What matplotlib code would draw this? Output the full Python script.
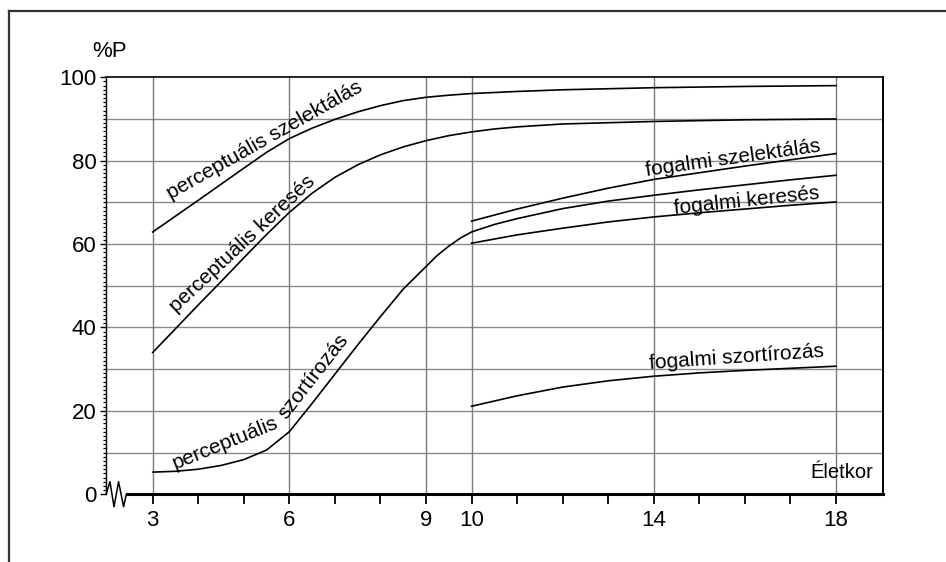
import matplotlib.pyplot as plt
from matplotlib.lines import Line2D
from matplotlib.ticker import MultipleLocator, FixedLocator
import numpy as np

plt.rcParams['font.family'] = ['Liberation Sans', 'DejaVu Sans']

# eletkor (ev) es %P ertekek a gorbekhez
perc_szel_x = [3, 4, 5, 5.5, 6, 6.5, 7, 7.5, 8, 8.5, 9, 9.5, 10, 11, 12, 14, 16, 18]
perc_szel_y = [62.9, 70.5, 78.2, 82, 85.3, 87.8, 89.9, 91.7, 93.2, 94.4, 95.2, 95.7, 96.1, 96.6, 97, 97.5, 97.8, 98]

perc_ker_x = [3, 3.5, 4, 4.5, 5, 5.5, 6, 6.5, 7, 7.5, 8, 8.5, 9, 9.5, 10, 10.5, 11, 12, 14, 16, 18]
perc_ker_y = [34, 39.7, 45.4, 51, 56.7, 62.3, 67.6, 72.2, 76, 79, 81.4, 83.3, 84.8, 86, 86.9, 87.6, 88.1,
              88.8, 89.4, 89.8, 90]

perc_szort_x = [3, 3.5, 4, 4.5, 5, 5.5, 6, 6.5, 7, 7.5, 8, 8.5, 9, 9.25, 9.5, 9.75, 10, 10.5, 11, 12,
                13, 14, 15, 16, 17, 18]
perc_szort_y = [5.3, 5.5, 6.0, 6.9, 8.3, 10.6, 15.0, 21.8, 28.8, 35.8, 42.6, 49.2, 54.6, 57.3, 59.5, 61.4,
                62.9, 64.7, 66.1, 68.5, 70.3, 71.7, 73, 74.2, 75.4, 76.5]

fog_x = [10, 11, 12, 13, 14, 15, 16, 17, 18]
fog_szel_y = [65.5, 68.4, 71, 73.4, 75.5, 77.1, 78.7, 80.2, 81.7]
fog_ker_y = [60.2, 62.2, 63.8, 65.3, 66.5, 67.5, 68.4, 69.3, 70.1]
fog_szort_y = [21.1, 23.6, 25.7, 27.2, 28.3, 29.1, 29.7, 30.2, 30.7]

x_major = [3, 6, 9, 10, 14, 18]
x_minor = [4, 5, 7, 8, 11, 12, 13, 15, 16, 17]
y_labels = [0, 20, 40, 60, 80, 100]

fig = plt.figure(figsize=(9.46, 5.62), dpi=100)
ax = fig.add_axes([0.1121, 0.1206, 0.8216, 0.7419])

# keret a kep korul (bal es felso el)
fig.add_artist(Line2D([9/946, 9/946], [0, 1-11/562], color='#333333', lw=1.6))
fig.add_artist(Line2D([9/946, 1], [1-11/562, 1-11/562], color='#333333', lw=1.6))

for yy in range(10, 100, 10):
    ax.axhline(yy, color='#8a8a8a', lw=1.0, zorder=1)
for xx in x_major:
    ax.axvline(xx, color='#7a7a7a', lw=1.0, zorder=1)

lc = 'black'
lw = 1.2
ax.plot(perc_szel_x, perc_szel_y, color=lc, lw=lw, zorder=3)
ax.plot(perc_ker_x, perc_ker_y, color=lc, lw=lw, zorder=3)
ax.plot(perc_szort_x, perc_szort_y, color=lc, lw=lw, zorder=3)
ax.plot(fog_x, fog_szel_y, color=lc, lw=lw, zorder=3)
ax.plot(fog_x, fog_ker_y, color=lc, lw=lw, zorder=3)
ax.plot(fog_x, fog_szort_y, color=lc, lw=lw, zorder=3)

fs = 15
kw = dict(fontsize=fs, ha='center', va='center', rotation_mode='anchor', zorder=4)
ax.text(5.45, 84.8, 'perceptuális szelektálás', rotation=29.5, **kw)
ax.text(4.97, 60.1, 'perceptuális keresés', rotation=43, **kw)
ax.text(4.6, 12.3, 'perceptuális', rotation=22, **kw)
ax.text(6.52, 28.2, 'szortírozás', rotation=52, **kw)
ax.text(15.75, 80.5, 'fogalmi szelektálás', rotation=8, **kw)
ax.text(16.05, 70.4, 'fogalmi keresés', rotation=6, **kw)
ax.text(15.83, 32.7, 'fogalmi szortírozás', rotation=4, **kw)
ax.text(18.13, 5.2, 'Életkor', fontsize=14.5, ha='center', va='center')
ax.text(2.06, 106.1, '%P', fontsize=16, ha='center', va='center', clip_on=False)

ax.set_xlim(1.975, 19.04)
ax.set_ylim(0, 100)

ax.xaxis.set_major_locator(FixedLocator(x_major))
ax.xaxis.set_minor_locator(FixedLocator(x_minor))
ax.set_xticklabels([str(v) for v in x_major])
ax.yaxis.set_major_locator(FixedLocator(y_labels))
ax.yaxis.set_minor_locator(MultipleLocator(1))
ax.set_yticklabels([str(v) for v in y_labels])

ax.tick_params(axis='x', which='both', direction='out', length=7, width=1.3, labelsize=16, pad=4)
ax.tick_params(axis='y', which='major', direction='out', length=4, width=1.0, labelsize=16, pad=3)
ax.tick_params(axis='y', which='minor', direction='out', length=2.5, width=0.9)

ax.spines['bottom'].set_linewidth(2.2)
ax.spines['bottom'].set_bounds(2.44, 19.04)
ax.spines['left'].set_linewidth(1.0)
ax.spines['top'].set_linewidth(1.2)
ax.spines['right'].set_linewidth(1.4)

# torespont jel az x tengelyen
zz_x = [1.975, 2.06, 2.15, 2.25, 2.36, 2.42, 2.44]
zz_y = [0, 3, -3, 3, -3, 0, 0]
ax.plot(zz_x, zz_y, color='black', lw=1.1, clip_on=False, zorder=5)

fig.savefig('out.png', dpi=100)
